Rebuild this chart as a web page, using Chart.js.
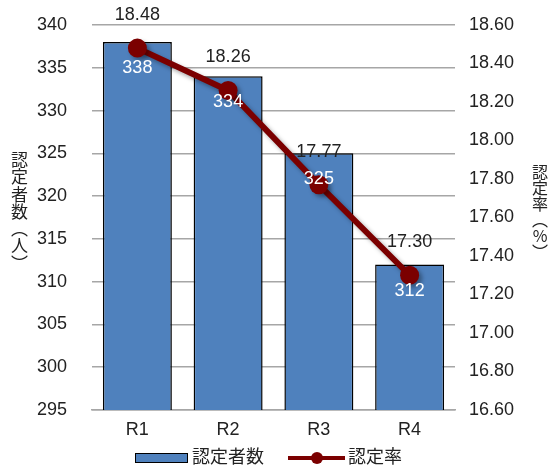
<!DOCTYPE html>
<html>
<head>
<meta charset="utf-8">
<script src="https://cdn.jsdelivr.net/npm/chart.js@4.4.1/dist/chart.umd.min.js"></script>
<style>
  html, body { margin: 0; padding: 0; background: #fff; }
  #wrap { position: relative; width: 550px; height: 465px; overflow: hidden; }
  #chart { position: absolute; left: 0; top: 0; }
  .vtitle {
    position: absolute;
    writing-mode: vertical-rl;
    text-orientation: upright;
    font-family: "Noto Sans CJK JP", sans-serif;
    color: #222;
  }
  .lg { position: absolute; font-family: "Noto Sans CJK JP", sans-serif; font-size: 18px; line-height: 18px; color: #222; white-space: nowrap; }
  .sw-bar { position: absolute; box-sizing: border-box; background: #4F81BD; border: 1.5px solid #000; }
  .sw-line { position: absolute; background: #7B0000; }
  .sw-dot { position: absolute; background: #7B0000; border-radius: 50%; }
</style>
</head>
<body>
<div id="wrap">
  <canvas id="chart" width="550" height="465"></canvas>
  <div class="vtitle" style="left:11px; top:151px; font-size:17px; line-height:17px; letter-spacing:0.3px;">認定者数（人）</div>
  <div class="vtitle" style="left:532px; top:164px; font-size:16px; line-height:16px; letter-spacing:0px;">認定率（%）</div>

  <div class="sw-bar" style="left:135px; top:453px; width:53px; height:10px;"></div>
  <div class="lg" style="left:192px; top:446px;">認定者数</div>
  <div class="sw-line" style="left:288px; top:456px; width:57px; height:4px;"></div>
  <div class="sw-dot" style="left:311px; top:452px; width:12px; height:12px;"></div>
  <div class="lg" style="left:348px; top:446px;">認定率</div>
</div>
<script>
// Fiscal years
const categories = ['R1', 'R2', 'R3', 'R4'];
// Number of certified persons (left axis)
const persons = [338, 334, 325, 312];
// Certification rate in percent (right axis)
const rates = [18.48, 18.26, 17.77, 17.30];

const TEXT = '#222';
const NUM_FONT = { family: '"Liberation Sans", Arial, sans-serif', size: 18 };

// soft shadow under the rate line
const lineShadow = {
  id: 'lineShadow',
  beforeDatasetDraw(chart, args) {
    if (chart.data.datasets[args.index].type === 'line') {
      const c = chart.ctx;
      c.save();
      c.shadowColor = 'rgba(0,0,0,0.35)';
      c.shadowBlur = 4;
      c.shadowOffsetX = 3;
      c.shadowOffsetY = 3;
    }
  },
  afterDatasetDraw(chart, args) {
    if (chart.data.datasets[args.index].type === 'line') chart.ctx.restore();
  }
};

// value labels: counts inside the bars, rates above the points
const valueLabels = {
  id: 'valueLabels',
  afterDatasetsDraw(chart) {
    const c = chart.ctx;
    c.save();
    c.font = `${NUM_FONT.size}px ${NUM_FONT.family}`;
    c.textAlign = 'center';
    c.textBaseline = 'middle';
    chart.getDatasetMeta(0).data.forEach((el, i) => {
      c.fillStyle = '#fff';
      c.fillText(String(persons[i]), el.x, el.y + 26);
    });
    chart.getDatasetMeta(1).data.forEach((el, i) => {
      c.fillStyle = TEXT;
      c.fillText(rates[i].toFixed(2), el.x, el.y - 33);
    });
    c.restore();
  }
};

// fixed axis widths; tick padding should not push the plot area down
function fixedWidth(w) {
  return scale => {
    scale.width = w;
    scale.paddingTop = 0;
    scale.paddingBottom = 0;
  };
}

new Chart(document.getElementById('chart'), {
  type: 'bar',
  data: {
    labels: categories,
    datasets: [
      {
        type: 'bar',
        label: '認定者数',
        data: persons,
        yAxisID: 'y',
        backgroundColor: '#4F81BD',
        borderColor: '#000',
        borderWidth: 1.5,
        barPercentage: 0.76,
        categoryPercentage: 1,
        order: 1
      },
      {
        type: 'line',
        label: '認定率',
        data: rates,
        yAxisID: 'y1',
        borderColor: '#7B0000',
        backgroundColor: '#7B0000',
        borderWidth: 6,
        pointRadius: 9.5,
        pointBorderWidth: 0,
        pointBackgroundColor: '#7B0000',
        tension: 0,
        order: 0
      }
    ]
  },
  options: {
    responsive: false,
    animation: false,
    layout: { padding: { top: 25, bottom: 25, left: 0, right: 0 } },
    plugins: {
      legend: { display: false },
      tooltip: { enabled: false }
    },
    scales: {
      x: {
        grid: { display: false, drawTicks: false },
        border: { display: true, color: '#A6A6A6', width: 1.5 },
        ticks: { color: TEXT, font: NUM_FONT, padding: 9 },
        afterFit(scale) { scale.height = 30; }
      },
      y: {
        position: 'left',
        min: 295,
        max: 340,
        ticks: { stepSize: 5, color: TEXT, font: NUM_FONT, padding: 25 },
        grid: { color: '#A6A6A6', lineWidth: 1.5, drawTicks: false },
        border: { display: false },
        afterFit: fixedWidth(92)
      },
      y1: {
        position: 'right',
        min: 16.6,
        max: 18.6,
        ticks: {
          stepSize: 0.2,
          color: TEXT,
          font: NUM_FONT,
          padding: 14,
          callback: v => Number(v).toFixed(2)
        },
        grid: { display: false, drawTicks: false },
        border: { display: false },
        afterFit: fixedWidth(95)
      }
    }
  },
  plugins: [lineShadow, valueLabels]
});
</script>
</body>
</html>
